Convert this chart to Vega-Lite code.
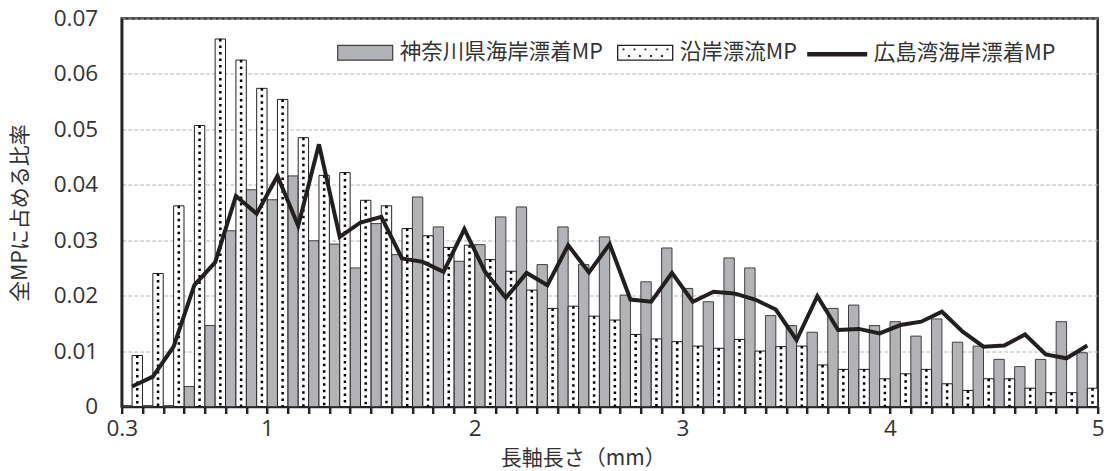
{
  "$schema": "https://vega.github.io/schema/vega-lite/v6.json",
  "width": 976,
  "height": 388,
  "autosize": {"type": "none"},
  "padding": {"left": 121.7, "top": 18.5, "right": 13.3, "bottom": 64.5},
  "background": "#ffffff",
  "config": {
    "font": "Noto Sans CJK JP",
    "view": {"stroke": "#262626", "strokeWidth": 2.5},
    "axis": {"labelFont": "Open Sans", "titleFont": "Noto Sans CJK JP", "labelColor": "#333333", "titleColor": "#333333", "titleFontWeight": "normal"},
    "legend": {"labelFont": "Noto Sans CJK JP", "labelFontSize": 21.5, "labelColor": "#333333", "labelOffset": 6, "labelLimit": 400, "symbolOpacity": 1, "orient": "none"}
  },
  "data": {
    "values": [
      {"lo": 0.3, "K": 0, "E": 0.0092, "H": 0.0036},
      {"lo": 0.4, "K": 0, "E": 0.0240, "H": 0.0054},
      {"lo": 0.5, "K": 0, "E": 0.0362, "H": 0.0108},
      {"lo": 0.6, "K": 0.0036, "E": 0.0507, "H": 0.0219},
      {"lo": 0.7, "K": 0.0146, "E": 0.0663, "H": 0.0260},
      {"lo": 0.8, "K": 0.0317, "E": 0.0625, "H": 0.0380},
      {"lo": 0.9, "K": 0.0391, "E": 0.0574, "H": 0.0348},
      {"lo": 1.0, "K": 0.0373, "E": 0.0554, "H": 0.0416},
      {"lo": 1.1, "K": 0.0416, "E": 0.0485, "H": 0.0326},
      {"lo": 1.2, "K": 0.0299, "E": 0.0417, "H": 0.0473},
      {"lo": 1.3, "K": 0.0293, "E": 0.0422, "H": 0.0306},
      {"lo": 1.4, "K": 0.0250, "E": 0.0372, "H": 0.0332},
      {"lo": 1.5, "K": 0.0330, "E": 0.0362, "H": 0.0342},
      {"lo": 1.6, "K": 0.0274, "E": 0.0321, "H": 0.0267},
      {"lo": 1.7, "K": 0.0378, "E": 0.0308, "H": 0.0261},
      {"lo": 1.8, "K": 0.0324, "E": 0.0287, "H": 0.0243},
      {"lo": 1.9, "K": 0.0262, "E": 0.0291, "H": 0.0320},
      {"lo": 2.0, "K": 0.0292, "E": 0.0265, "H": 0.0243},
      {"lo": 2.1, "K": 0.0342, "E": 0.0244, "H": 0.0196},
      {"lo": 2.2, "K": 0.0360, "E": 0.0210, "H": 0.0241},
      {"lo": 2.3, "K": 0.0256, "E": 0.0177, "H": 0.0219},
      {"lo": 2.4, "K": 0.0324, "E": 0.0181, "H": 0.0291},
      {"lo": 2.5, "K": 0.0256, "E": 0.0163, "H": 0.0242},
      {"lo": 2.6, "K": 0.0306, "E": 0.0156, "H": 0.0293},
      {"lo": 2.7, "K": 0.0201, "E": 0.0130, "H": 0.0193},
      {"lo": 2.8, "K": 0.0225, "E": 0.0122, "H": 0.0189},
      {"lo": 2.9, "K": 0.0286, "E": 0.0117, "H": 0.0241},
      {"lo": 3.0, "K": 0.0213, "E": 0.0109, "H": 0.0189},
      {"lo": 3.1, "K": 0.0189, "E": 0.0105, "H": 0.0207},
      {"lo": 3.2, "K": 0.0268, "E": 0.0121, "H": 0.0204},
      {"lo": 3.3, "K": 0.0250, "E": 0.0100, "H": 0.0193},
      {"lo": 3.4, "K": 0.0164, "E": 0.0108, "H": 0.0175},
      {"lo": 3.5, "K": 0.0146, "E": 0.0109, "H": 0.0120},
      {"lo": 3.6, "K": 0.0134, "E": 0.0075, "H": 0.0199},
      {"lo": 3.7, "K": 0.0177, "E": 0.0067, "H": 0.0138},
      {"lo": 3.8, "K": 0.0183, "E": 0.0067, "H": 0.0140},
      {"lo": 3.9, "K": 0.0146, "E": 0.0050, "H": 0.0132},
      {"lo": 4.0, "K": 0.0153, "E": 0.0059, "H": 0.0147},
      {"lo": 4.1, "K": 0.0127, "E": 0.0067, "H": 0.0153},
      {"lo": 4.2, "K": 0.0158, "E": 0.0041, "H": 0.0171},
      {"lo": 4.3, "K": 0.0116, "E": 0.0029, "H": 0.0135},
      {"lo": 4.4, "K": 0.0109, "E": 0.0050, "H": 0.0108},
      {"lo": 4.5, "K": 0.0085, "E": 0.0050, "H": 0.0110},
      {"lo": 4.6, "K": 0.0072, "E": 0.0033, "H": 0.0130},
      {"lo": 4.7, "K": 0.0085, "E": 0.0025, "H": 0.0094},
      {"lo": 4.8, "K": 0.0153, "E": 0.0025, "H": 0.0087},
      {"lo": 4.9, "K": 0.0097, "E": 0.0033, "H": 0.0110}
    ]
  },
  "resolve": {"scale": {"x": "independent"}},
  "layer": [
    {
      "encoding": {
        "x": {"field": "lo", "type": "ordinal", "axis": null, "scale": {"paddingInner": 0, "paddingOuter": 0}}
      },
      "layer": [
        {
          "mark": {"type": "bar", "stroke": "#404040", "strokeWidth": 1},
          "encoding": {
            "xOffset": {"datum": "K", "scale": {"domain": ["K", "E"], "paddingInner": 0, "paddingOuter": 0}},
            "y": {"field": "K", "type": "quantitative", "scale": {"domain": [0, 0.07], "nice": false},
              "axis": {"values": [0, 0.01, 0.02, 0.03, 0.04, 0.05, 0.06, 0.07], "labelExpr": "datum.value == 0 ? '0' : format(datum.value, '.2f')",
                "title": "全MPに占める比率", "titleFontSize": 21, "labelFontSize": 22.5, "ticks": false, "tickSize": 0, "labelPadding": 24,
                "domainColor": "#262626", "domainWidth": 2.5, "grid": true, "gridColor": "#b5b5b5", "gridDash": [4, 2], "gridWidth": 1,
                "titleAngle": -90, "titleX": -101, "titleY": 194, "titleAlign": "center", "titleBaseline": "middle"}},
            "fill": {"datum": "神奈川県海岸漂着MP", "type": "nominal",
              "scale": {"domain": ["神奈川県海岸漂着MP"], "range": ["#b2b3b7"]},
              "legend": {"title": null, "legendX": 215, "legendY": 5.7, "symbolSize": 3025,
                "symbolType": "M-1,-0.27H1V0.27H-1Z", "symbolStrokeColor": "#404040", "symbolStrokeWidth": 1.2}}
          }
        },
        {
          "mark": {"type": "bar", "stroke": "#231f20", "strokeWidth": 1},
          "encoding": {
            "xOffset": {"datum": "E"},
            "y": {"field": "E", "type": "quantitative"},
            "color": {"datum": "沿岸漂流MP", "type": "nominal",
              "scale": {"domain": ["沿岸漂流MP"], "range": ["#ffffff"]},
              "legend": {"title": null, "legendX": 495, "legendY": 5.7, "symbolSize": 3025,
                "symbolType": "M-1,-0.27H1V0.27H-1ZM-0.8,-0.13h0.02v0.02h-0.02ZM-0.4,-0.13h0.02v0.02h-0.02ZM0,-0.13h0.02v0.02h-0.02ZM0.4,-0.13h0.02v0.02h-0.02ZM0.8,-0.13h0.02v0.02h-0.02ZM-0.6,0.11h0.02v0.02h-0.02ZM-0.2,0.11h0.02v0.02h-0.02ZM0.2,0.11h0.02v0.02h-0.02ZM0.6,0.11h0.02v0.02h-0.02Z",
                "symbolFillColor": "#ffffff", "symbolStrokeColor": "#231f20", "symbolStrokeWidth": 1.3}}
          }
        },
        {
          "mark": {"type": "rule", "color": "#000000", "strokeWidth": 2.5, "strokeDash": [2.5, 4]},
          "encoding": {
            "xOffset": {"datum": "E"},
            "y": {"field": "E", "type": "quantitative"},
            "y2": {"datum": 0}
          }
        },
        {
          "mark": {"type": "line", "strokeWidth": 4},
          "encoding": {
            "y": {"field": "H", "type": "quantitative"},
            "stroke": {"datum": "広島湾海岸漂着MP", "type": "nominal",
              "scale": {"domain": ["広島湾海岸漂着MP"], "range": ["#231f20"]},
              "legend": {"title": null, "legendX": 683, "legendY": 3.2, "symbolSize": 3600,
                "symbolType": "M-1,0H1", "symbolStrokeWidth": 4.5, "labelOffset": 4}}
          }
        }
      ]
    },
    {
      "mark": {"type": "rule", "opacity": 0},
      "encoding": {
        "x": {"field": "lo", "type": "quantitative", "scale": {"domain": [0.3, 5.0], "nice": false, "zero": false},
          "axis": {"values": [0.3, 0.4, 0.5, 0.6, 0.7, 0.8, 0.9, 1.0, 1.1, 1.2, 1.3, 1.4, 1.5, 1.6, 1.7, 1.8, 1.9, 2.0, 2.1, 2.2, 2.3, 2.4, 2.5, 2.6, 2.7, 2.8, 2.9, 3.0, 3.1, 3.2, 3.3, 3.4, 3.5, 3.6, 3.7, 3.8, 3.9, 4.0, 4.1, 4.2, 4.3, 4.4, 4.5, 4.6, 4.7, 4.8, 4.9, 5.0],
            "labelExpr": "datum.value == 0.3 ? '0.3' : ((datum.value == 1 || datum.value == 2 || datum.value == 3 || datum.value == 4 || datum.value == 5) ? format(datum.value, 'd') : '')",
            "labelOverlap": false, "labelFlush": false, "labelFontSize": 22.5, "labelPadding": 4,
            "tickSize": 7, "tickWidth": 2.5, "tickColor": "#262626", "domainColor": "#262626", "domainWidth": 2.5,
            "grid": false, "title": "長軸長さ（mm）", "titleFontSize": 21, "titleX": 461, "titleY": 52, "titleAlign": "center", "titleBaseline": "middle"}}
      }
    }
  ]
}
